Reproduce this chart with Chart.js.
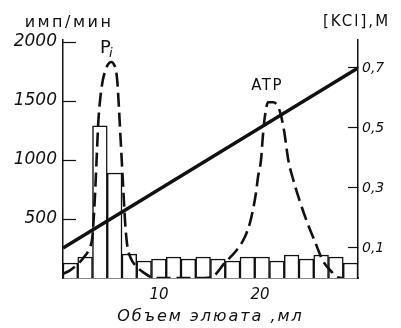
<!DOCTYPE html>
<html><head><meta charset="utf-8">
<script src="https://cdn.jsdelivr.net/npm/chart.js@4"></script>
<style>html,body{margin:0;padding:0;background:#fff}</style>
</head><body>
<canvas id="c" width="401" height="328" style="display:block;width:401px;height:328px"></canvas>
<script>
// Fractions (histogram): elution volume of each fraction (ml) and radioactivity (cpm)
const fractionVolume = [1.23, 2.69, 4.15, 5.61, 7.07, 8.53, 9.99, 11.45, 12.91, 14.37, 15.83, 17.29, 18.75, 20.21, 21.67, 23.13, 24.59, 26.05, 27.51, 28.97];
const fractionCpm    = [127, 178, 1290, 890, 203, 144, 161, 178, 161, 178, 161, 144, 178, 178, 144, 195, 161, 195, 178, 127];

// Dashed elution profile (Pi and ATP peaks)
const curveVolume = [0.5, 1.2, 2.0, 2.7, 3.2, 3.4, 3.55, 3.7, 3.85, 4.0, 4.2, 4.45, 4.75, 5.0, 5.3, 5.6, 5.75, 5.9, 6.05, 6.2, 6.35, 6.5, 6.65, 6.85, 7.2, 7.8, 8.5, 9.2, 9.8,
                     14.5, 15.25, 16.5, 17.7, 18.5, 19.0, 19.3, 19.6, 19.8, 20.1, 20.3, 20.5, 20.8, 21.3, 21.8, 22.1, 22.4, 22.8, 23.3, 24.0, 24.7, 25.5, 26.2, 27.2, 27.6, 28.1];
const curveCpm    = [35, 65, 120, 190, 265, 340, 520, 760, 1050, 1330, 1530, 1680, 1770, 1815, 1830, 1800, 1760, 1640, 1420, 1180, 940, 700, 470, 280, 170, 95, 45, 8, 0,
                     0, 8, 127, 237, 347, 466, 576, 720, 855, 1000, 1220, 1380, 1490, 1490, 1450, 1370, 1240, 1000, 830, 635, 465, 295, 150, 42, 8, 0];

// KCl gradient
const kclVolume = [0.5, 29.7];
const kclConc   = [0.1, 0.7];

// Tick labels
const xTicks  = [10, 20];
const yTicks  = [500, 1000, 1500, 2000];
const y1Ticks = [0.1, 0.3, 0.5, 0.7];

const INK = '#111';

const labels = {id: 'labels', afterDraw(chart) {
  const {ctx, chartArea: a, scales: {x, y}} = chart;
  ctx.save();
  ctx.fillStyle = INK;
  ctx.textBaseline = 'alphabetic';
  ctx.letterSpacing = '2.5px';
  ctx.font = '16px "DejaVu Sans"';
  ctx.textAlign = 'center';
  ctx.fillText('имп/мин', a.left + 6, 27);
  ctx.letterSpacing = '2px';
  ctx.textAlign = 'left';
  ctx.font = '15px "DejaVu Sans"';
  ctx.fillText('[KCl],M', a.right - 35, 26);
  ctx.letterSpacing = '0px';
  ctx.font = '18px "DejaVu Sans"';
  ctx.fillText('P', x.getPixelForValue(4.16), y.getPixelForValue(1906));
  ctx.font = 'italic 13px "DejaVu Sans"';
  ctx.fillText('i', x.getPixelForValue(5.05), y.getPixelForValue(1872));
  ctx.letterSpacing = '1.5px';
  ctx.textAlign = 'center';
  ctx.font = '15px "DejaVu Sans"';
  ctx.fillText('ATP', x.getPixelForValue(20.7), y.getPixelForValue(1592));
  ctx.letterSpacing = '2px';
  ctx.font = 'italic 16px "DejaVu Sans"';
  ctx.fillText('Объем элюата ,мл', (a.left + a.right) / 2, 321);
  ctx.restore();
}};

new Chart(document.getElementById('c'), {
  data: {
    datasets: [
      {
        type: 'line', label: 'KCl', order: 1, yAxisID: 'y1', xAxisID: 'x',
        data: kclVolume.map((v, i) => ({x: v, y: kclConc[i]})),
        borderColor: INK, borderWidth: 3.5, pointRadius: 0, fill: false
      },
      {
        type: 'line', label: 'profile', order: 2, yAxisID: 'y', xAxisID: 'x',
        data: curveVolume.map((v, i) => ({x: v, y: curveCpm[i]})),
        borderColor: INK, borderWidth: 2.6, borderDash: [14, 6], pointRadius: 0,
        cubicInterpolationMode: 'monotone', fill: false
      },
      {
        type: 'bar', label: 'fractions', order: 3, yAxisID: 'y', xAxisID: 'x',
        data: fractionVolume.map((v, i) => ({x: v, y: fractionCpm[i]})),
        backgroundColor: '#fff', borderColor: INK, borderWidth: 1.5,
        barPercentage: 1, categoryPercentage: 1
      }
    ]
  },
  options: {
    responsive: false, animation: false, devicePixelRatio: 1,
    layout: {padding: {top: 40, left: 0, right: 0, bottom: 0}},
    plugins: {legend: {display: false}, tooltip: {enabled: false}},
    scales: {
      x: {
        type: 'linear', position: 'bottom', min: 0.5, max: 29.7, offset: false,
        afterBuildTicks: s => { s.ticks = xTicks.map(v => ({value: v})); },
        afterFit: s => { s.height = 50; },
        grid: {display: false, drawTicks: false, offset: false},
        border: {display: true, color: INK, width: 1.5},
        ticks: {font: {family: 'DejaVu Sans', style: 'italic', size: 15}, color: INK, padding: 8, maxRotation: 0, callback: v => String(v)}
      },
      y: {
        type: 'linear', position: 'left', min: 0, max: 2017,
        afterBuildTicks: s => { s.ticks = yTicks.map(v => ({value: v})); },
        afterFit: s => { s.width = 63; },
        grid: {display: true, drawOnChartArea: false, drawTicks: true, tickLength: -13, tickColor: INK, tickWidth: 1.2},
        border: {display: true, color: INK, width: 1.5},
        ticks: {font: {family: 'DejaVu Sans', style: 'italic', size: 17}, color: INK, padding: 19, callback: v => String(v)}
      },
      y1: {
        type: 'linear', position: 'right', min: 0, max: 0.793,
        afterBuildTicks: s => { s.ticks = y1Ticks.map(v => ({value: v})); },
        afterFit: s => { s.width = 43; },
        grid: {display: true, drawOnChartArea: false, drawTicks: true, tickLength: -10, tickColor: INK, tickWidth: 1.2},
        border: {display: true, color: INK, width: 1.5},
        ticks: {font: {family: 'DejaVu Sans', style: 'italic', size: 14}, color: INK, padding: 14, callback: v => v.toFixed(1).replace('.', ',')}
      }
    }
  },
  plugins: [labels]
});
</script>
</body></html>
